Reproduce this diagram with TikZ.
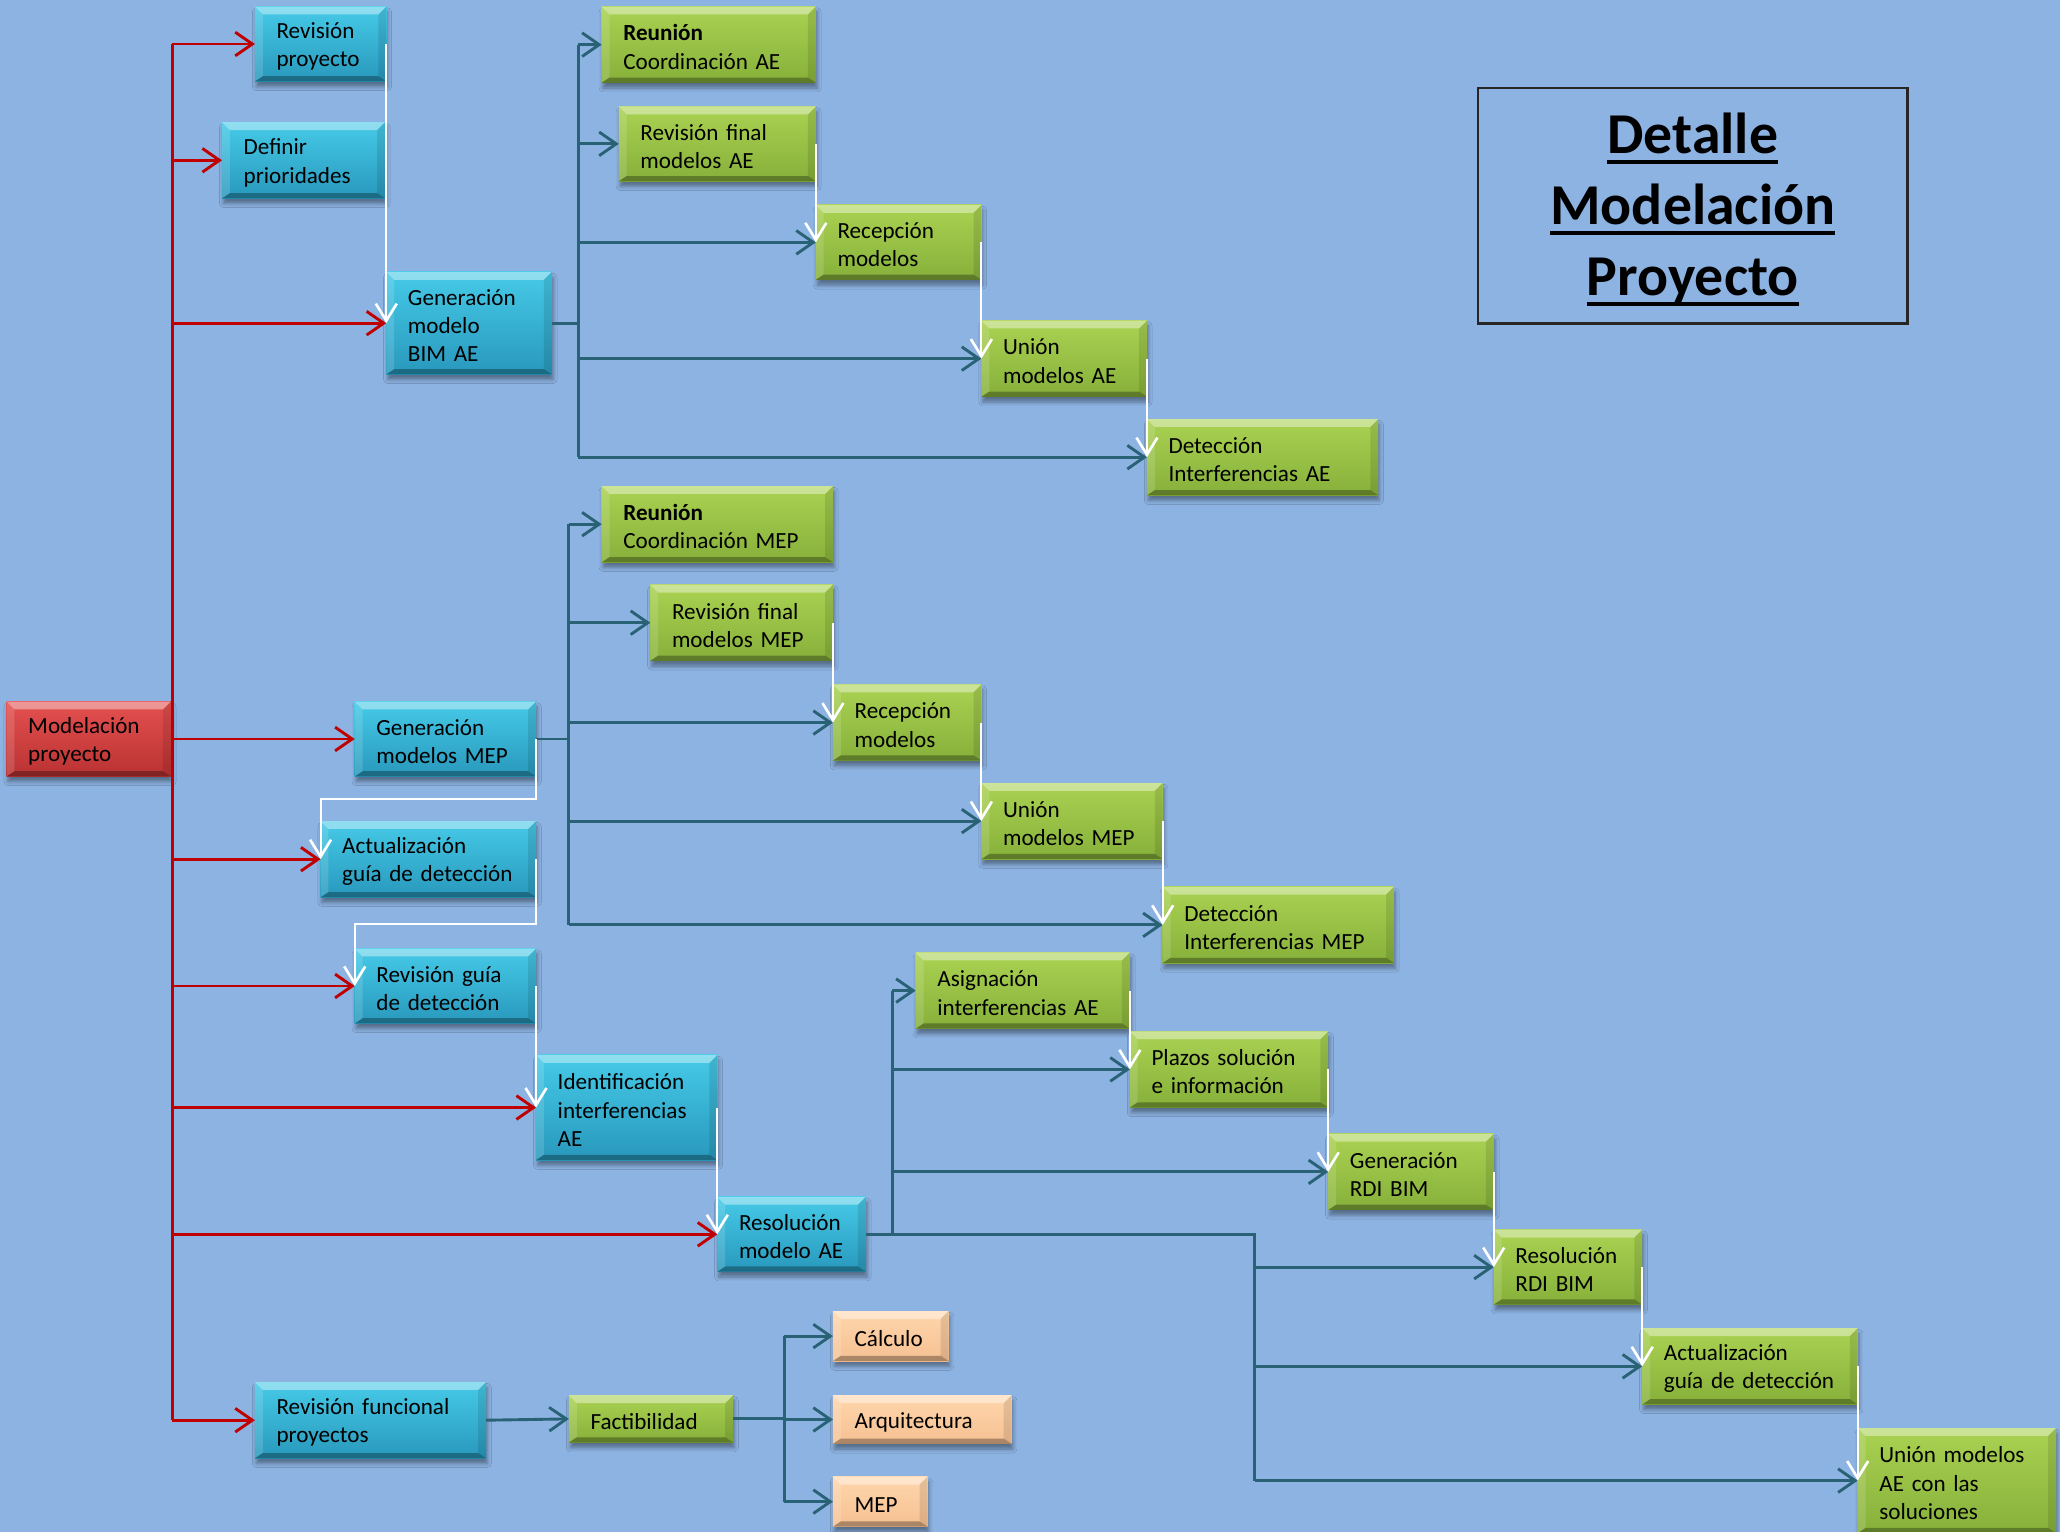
\documentclass[tikz,border=0pt]{standalone}
\usepackage{fontspec}
\setmainfont{Carlito}
\usetikzlibrary{arrows.meta,shadows.blur}

\definecolor{bg}{RGB}{141,179,226}
\definecolor{cyT}{RGB}{70,202,232}
\definecolor{cyB}{RGB}{40,152,188}
\definecolor{grT}{RGB}{170,210,82}
\definecolor{grB}{RGB}{134,176,58}
\definecolor{rdT}{RGB}{228,80,80}
\definecolor{rdB}{RGB}{186,50,50}
\definecolor{orT}{RGB}{255,214,172}
\definecolor{orB}{RGB}{245,192,146}
\definecolor{redln}{RGB}{192,0,0}
\definecolor{tealln}{RGB}{40,98,116}
\definecolor{frame}{RGB}{38,38,38}

% bevel bands drawn inside every box
\newcommand\bevel{%
  \fill[white,opacity=0.40] (path picture bounding box.north west) -- (path picture bounding box.north east)
     -- ([xshift=-6pt,yshift=-6pt]path picture bounding box.north east) -- ([xshift=6pt,yshift=-6pt]path picture bounding box.north west) -- cycle;
  \fill[white,opacity=0.14] (path picture bounding box.north west) -- ([xshift=6pt,yshift=-6pt]path picture bounding box.north west)
     -- ([xshift=6pt,yshift=4pt]path picture bounding box.south west) -- (path picture bounding box.south west) -- cycle;
  \fill[black,opacity=0.10] (path picture bounding box.north east) -- ([xshift=-6pt,yshift=-6pt]path picture bounding box.north east)
     -- ([xshift=-6pt,yshift=4pt]path picture bounding box.south east) -- (path picture bounding box.south east) -- cycle;
  \fill[black,opacity=0.30] (path picture bounding box.south west) -- ([xshift=6pt,yshift=4pt]path picture bounding box.south west)
     -- ([xshift=-6pt,yshift=4pt]path picture bounding box.south east) -- (path picture bounding box.south east) -- cycle;
}

% box from its corners (x1,y1)-(x2,y2); the strut evens out the first line height
\newcommand\bx[7]{%
  \pgfmathsetmacro\bxw{#5-#3}\pgfmathsetmacro\bxh{#6-#4}%
  \pgfmathsetmacro\bxcx{(#3+#5)/2}\pgfmathsetmacro\bxcy{(#4+#6)/2}%
  \pgfmathsetmacro\bxtw{#5-#3-33}%
  \node[#1, minimum width=\bxw pt, minimum height=\bxh pt, text width=\bxtw pt] (#2) at (\bxcx,\bxcy) {\rule{0pt}{16pt}#7};}

\newsavebox\tulbox
\newcommand\tul[1]{\sbox\tulbox{#1}\rlap{\rule[-8pt]{\wd\tulbox}{3pt}}\usebox\tulbox}

\tikzset{
  box/.style={rectangle, inner xsep=16.5pt, inner ysep=0pt, outer sep=0pt, align=left,
    font=\fontsize{17.6}{21.5}\selectfont, text=black, path picture={\bevel},
    blur shadow={shadow xshift=1pt, shadow yshift=-4pt, shadow opacity=38, shadow blur radius=3pt}},
  cybox/.style={box, top color=cyT, bottom color=cyB},
  grbox/.style={box, top color=grT, bottom color=grB},
  rdbox/.style={box, top color=rdT, bottom color=rdB},
  orbox/.style={box, top color=orT, bottom color=orB},
  redline/.style={draw=redln, line width=2.2pt},
  redarrow/.style={redline, -{Straight Barb[length=13pt,width=18pt]}},
  tline/.style={draw=tealln, line width=2.2pt},
  tarrow/.style={tline, -{Straight Barb[length=13pt,width=18pt]}},
  warrow/.style={draw=white, line width=1.5pt, -{Straight Barb[length=13pt,width=16pt,line width=2pt]}},
}

\begin{document}
\begin{tikzpicture}[x=1pt,y=-1pt]
\fill[bg] (0,0) rectangle (1568,1166);
\useasboundingbox (0,0) rectangle (1568,1166);

% title
\node[draw=frame, line width=2pt, minimum width=327pt, minimum height=179pt, align=center,
      font=\fontsize{44}{54}\selectfont\bfseries, inner sep=0pt] (ttl) at (1288.5,156.5)
      {\rule{0pt}{37pt}\tul{Detalle}\\\tul{Modelación}\\\tul{Proyecto}};

% main branch
\bx{rdbox}{mp}{5}{534}{130}{591}{Modelación\\proyecto}
\bx{cybox}{rp}{194}{5}{294}{62}{Revisión\\proyecto}
\bx{cybox}{dp}{169}{93}{293}{151}{Definir\\prioridades}
\bx{cybox}{gbim}{294}{207}{420}{285}{Generación\\modelo\\BIM AE}
\bx{cybox}{gmep}{270}{534}{408}{591}{Generación\\modelos MEP}
\bx{cybox}{agd}{244}{625}{408}{683}{Actualización\\guía de detección}
\bx{cybox}{rgd}{270}{722}{408}{779}{Revisión guía\\de detección}
\bx{cybox}{iia}{408}{803}{546}{883}{Identificación\\interferencias\\AE}
\bx{cybox}{rae}{546}{911}{659}{968}{Resolución\\modelo AE}
\bx{cybox}{rfp}{194}{1052}{370}{1110}{Revisión funcional\\proyectos}

% AE models
\bx{grbox}{rca}{458}{5}{621}{63}{\textbf{Reunión}\\Coordinación AE}
\bx{grbox}{rfa}{471}{81}{621}{138}{Revisión final\\modelos AE}
\bx{grbox}{rm1}{621}{156}{747}{213}{Recepción\\modelos}
\bx{grbox}{uma}{747}{244}{873}{302}{Unión\\modelos AE}
\bx{grbox}{dia}{873}{319}{1049}{377}{Detección\\Interferencias AE}

% MEP models
\bx{grbox}{rcm}{458}{370}{634}{428}{\textbf{Reunión}\\Coordinación MEP}
\bx{grbox}{rfm}{495}{445}{634}{503}{Revisión final\\modelos MEP}
\bx{grbox}{rm2}{634}{521}{747}{579}{Recepción\\modelos}
\bx{grbox}{umm}{747}{596}{885}{654}{Unión\\modelos MEP}
\bx{grbox}{dim}{885}{675}{1061}{733}{Detección\\Interferencias MEP}

% interference resolution
\bx{grbox}{asi}{697}{725}{860}{783}{Asignación\\interferencias AE}
\bx{grbox}{pla}{860}{785}{1011}{843}{Plazos solución\\e información}
\bx{grbox}{grdi}{1011}{863}{1137}{921}{Generación\\RDI BIM}
\bx{grbox}{rrdi}{1137}{936}{1250}{993}{Resolución\\RDI BIM}
\bx{grbox}{agdb}{1250}{1011}{1414}{1069}{Actualización\\guía de detección}
\bx{grbox}{uae}{1414}{1087}{1565}{1167}{Unión modelos\\AE con las\\soluciones}

% feasibility
\bx{grbox}{fac}{433}{1062}{558}{1098}{Factibilidad}
\bx{orbox}{cal}{634}{998}{722}{1036}{Cálculo}
\bx{orbox}{arq}{634}{1062}{770}{1099}{Arquitectura}
\bx{orbox}{mep}{634}{1124}{706}{1162}{MEP}

% red tree
\coordinate (rx) at (131,0);
\draw[redline] (rx |- rp.west) -- (rx |- rfp.west);
\draw[redline] (mp.east) -- (rx |- mp.east);
\foreach \t in {rp,dp,gbim,gmep,agd,rgd,iia,rae,rfp}
  \draw[redarrow] (rx |- \t.west) -- (\t.west);

% AE tree
\coordinate (t1) at (440,0);
\draw[tline] (gbim.east) -- (t1 |- gbim.east);
\draw[tline] (t1 |- rca.west) -- (t1 |- dia.west);
\foreach \t in {rca,rfa,rm1,uma,dia}
  \draw[tarrow] (t1 |- \t.west) -- (\t.west);

% MEP tree
\coordinate (t2) at (433,0);
\draw[tline] (gmep.east) -- (t2 |- gmep.east);
\draw[tline] (t2 |- rcm.west) -- (t2 |- dim.west);
\foreach \t in {rcm,rfm,rm2,umm,dim}
  \draw[tarrow] (t2 |- \t.west) -- (\t.west);

% resolution tree
\coordinate (t3) at (679,0);
\coordinate (t4) at (955,0);
\draw[tline] (rae.east) -- (t4 |- rae.east) -- (t4 |- uae.west);
\draw[tline] (t3 |- asi.west) -- (t3 |- rae.east);
\foreach \t in {asi,pla,grdi}
  \draw[tarrow] (t3 |- \t.west) -- (\t.west);
\foreach \t in {rrdi,agdb,uae}
  \draw[tarrow] (t4 |- \t.west) -- (\t.west);

% feasibility tree
\draw[tarrow] (rfp.east) -- (fac.west);
\coordinate (t5) at (597,0);
\draw[tline] (fac.east) -- (t5 |- fac.east);
\draw[tline] (t5 |- cal.west) -- (t5 |- mep.west);
\foreach \t in {cal,arq,mep}
  \draw[tarrow] (t5 |- \t.west) -- (\t.west);

% sequence links
\coordinate (w1) at (0,608);
\coordinate (w2) at (0,703);
\draw[warrow] (rp.east) -- (gbim.west);
\draw[warrow] (rfa.east) -- (rm1.west);
\draw[warrow] (rm1.east) -- (uma.west);
\draw[warrow] (uma.east) -- (dia.west);
\draw[warrow] (rfm.east) -- (rm2.west);
\draw[warrow] (rm2.east) -- (umm.west);
\draw[warrow] (umm.east) -- (dim.west);
\draw[warrow] (gmep.east) -- (gmep.east |- w1) -| (agd.west);
\draw[warrow] (agd.east) -- (agd.east |- w2) -| (rgd.west);
\draw[warrow] (rgd.east) -- (iia.west);
\draw[warrow] (iia.east) -- (rae.west);
\draw[warrow] (asi.east) -- (pla.west);
\draw[warrow] (pla.east) -- (grdi.west);
\draw[warrow] (grdi.east) -- (rrdi.west);
\draw[warrow] (rrdi.east) -- (agdb.west);
\draw[warrow] (agdb.east) -- (uae.west);
\end{tikzpicture}
\end{document}
